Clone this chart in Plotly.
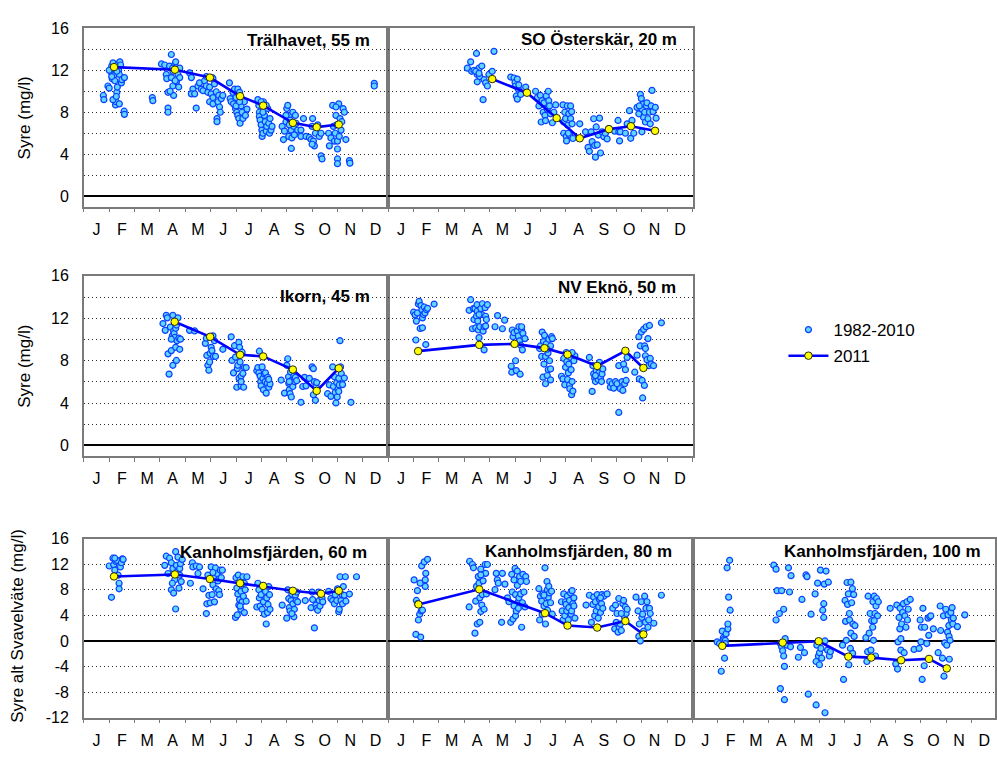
import plotly.graph_objects as go

# ---------------------------------------------------------------------------
# Data: month position (0 = 1 Jan, 12 = 31 Dec) and oxygen (mg/l);
# negative values denote hydrogen sulphide expressed as negative oxygen.
# ---------------------------------------------------------------------------
MONTHS = ["J", "F", "M", "A", "M", "J", "J", "A", "S", "O", "N", "D"]
PERIOD_LABEL = "1982-2010"
YEAR_LABEL = "2011"

STATIONS = [
    "Trälhavet, 55 m",
    "SO Österskär, 20 m",
    "Ikorn, 45 m",
    "NV Eknö, 50 m",
    "Kanholmsfjärden, 60 m",
    "Kanholmsfjärden, 80 m",
    "Kanholmsfjärden, 100 m",
]

tral_hist = [
    (0.77, 9.6), (0.79, 9.2), (0.95, 10.5), (1.0, 10.3), (1.05, 12.0), (1.08, 11.8), (1.1, 12.4),
    (1.12, 11.2), (1.15, 12.7), (1.18, 11.5), (1.2, 12.1), (1.25, 8.7), (1.27, 9.0), (1.3, 9.9),
    (1.32, 10.4), (1.35, 12.6), (1.37, 12.0), (1.4, 11.6), (1.42, 12.8), (1.45, 12.5), (1.48, 10.8),
    (1.5, 11.1), (1.6, 11.3), (1.59, 8.1), (1.6, 7.8), (1.15, 9.2), (1.22, 11.0), (1.28, 9.5),
    (1.4, 8.8), (1.1, 11.4), (1.0, 12.0), (1.3, 11.9),
    (2.7, 9.4), (2.72, 9.1),
    (3.06, 12.6), (3.19, 12.5), (3.25, 11.6), (3.27, 11.2), (3.32, 8.4), (3.32, 8.0), (3.32, 9.9),
    (3.38, 12.4), (3.45, 11.3), (3.45, 13.5), (3.51, 11.9), (3.51, 10.5), (3.54, 9.6), (3.58, 12.5),
    (3.62, 12.8), (3.65, 10.9), (3.71, 11.6), (3.74, 10.4), (3.78, 11.3), (3.78, 12.2), (3.6, 11.0),
    (3.4, 10.0), (3.5, 12.2),
    (4.17, 11.75), (4.24, 11.3), (4.3, 10.2), (4.24, 9.75), (4.37, 9.75), (4.43, 8.4), (4.5, 10.5),
    (4.56, 10.8), (4.63, 10.2), (4.7, 10.05), (4.76, 11.0), (4.83, 10.5), (4.83, 11.4), (4.89, 9.9),
    (4.96, 10.4), (4.96, 9.0), (5.02, 9.75), (5.06, 11.3), (5.09, 9.4), (5.09, 8.8), (5.15, 10.7),
    (5.22, 9.95), (5.25, 7.4), (5.25, 7.1), (5.29, 9.0), (5.32, 9.6), (5.35, 8.5), (5.38, 8.0),
    (5.42, 9.3), (5.48, 9.6), (5.09, 11.2),
    (5.74, 10.8), (5.77, 9.3), (5.81, 9.0), (5.88, 9.9), (5.9, 8.8), (5.94, 10.2), (5.98, 8.35),
    (6.0, 9.4), (6.03, 8.0), (6.07, 7.7), (6.07, 10.2), (6.11, 7.4), (6.14, 9.9), (6.16, 6.95),
    (6.2, 8.6), (6.24, 8.0), (6.27, 7.4), (6.33, 9.0), (6.37, 7.7), (6.43, 8.3), (6.0, 8.6), (6.14, 9.0),
    (6.86, 9.2), (6.9, 8.65), (6.92, 8.0), (6.92, 7.6), (6.95, 7.25), (6.99, 6.8), (7.02, 6.3),
    (7.03, 5.7), (7.06, 6.0), (7.08, 9.0), (7.12, 7.7), (7.15, 7.1), (7.19, 6.2), (7.21, 6.65),
    (7.25, 8.35), (7.29, 6.95), (7.32, 6.0), (7.34, 7.4), (7.38, 6.3), (7.42, 6.65), (7.19, 8.65),
    (7.06, 8.0), (6.99, 9.0),
    (7.82, 6.65), (7.87, 5.4), (7.91, 6.2), (7.97, 7.1), (8.0, 8.35), (8.04, 8.65), (8.08, 5.7),
    (8.1, 7.7), (8.13, 7.25), (8.17, 6.3), (8.18, 4.55), (8.2, 5.55), (8.24, 8.0), (8.28, 6.65),
    (8.3, 5.85), (8.34, 7.7), (8.37, 6.95), (8.43, 6.3), (7.97, 7.7), (8.1, 6.8),
    (8.56, 6.3), (8.56, 5.7), (8.66, 7.4), (8.76, 5.7), (8.89, 5.6), (8.96, 5.4), (9.0, 6.65),
    (9.02, 7.4), (9.05, 5.25), (9.09, 4.8), (9.13, 6.0), (9.22, 6.8), (9.28, 5.7), (9.35, 6.0),
    (9.35, 3.85), (9.39, 3.55), (9.0, 4.95),
    (9.65, 6.0), (9.68, 4.8), (9.74, 5.55), (9.81, 8.65), (9.84, 6.65), (9.88, 5.25), (9.91, 6.0),
    (9.94, 7.7), (9.97, 6.8), (10.0, 5.25), (10.0, 4.5), (10.0, 3.55), (10.0, 3.1), (10.05, 8.8),
    (10.07, 5.7), (10.1, 7.4), (10.14, 6.3), (10.17, 7.1), (10.22, 8.35), (10.27, 8.0), (10.33, 5.4),
    (10.47, 3.4), (10.49, 3.15), (9.94, 8.5),
    (11.45, 10.75), (11.45, 10.5),
]
tral_2011 = [(1.19, 12.3), (3.59, 12.05), (4.97, 11.3), (6.16, 9.53), (7.07, 8.63),
             (8.24, 6.99), (9.18, 6.58), (10.05, 6.83)]

oster_hist = [
    (3.12, 12.2), (3.25, 12.8), (3.29, 11.9), (3.38, 12.0), (3.48, 13.6), (3.51, 11.6), (3.51, 10.9),
    (3.58, 12.2), (3.61, 11.4), (3.69, 12.4), (3.74, 9.2), (3.78, 11.1), (3.84, 10.8), (3.91, 10.5),
    (3.97, 11.6), (4.1, 11.9), (4.17, 13.8), (3.45, 11.9), (3.58, 11.7),
    (4.83, 11.35), (4.96, 11.26), (5.0, 10.85), (5.02, 10.5), (5.05, 9.55), (5.09, 11.16), (5.13, 10.2),
    (5.15, 10.6), (5.09, 9.25), (5.22, 9.7), (5.42, 10.4),
    (5.81, 10.0), (5.88, 9.4), (5.94, 8.6), (6.0, 9.6), (6.03, 7.07), (6.07, 9.1), (6.11, 8.0),
    (6.14, 8.9), (6.18, 7.7), (6.2, 7.2), (6.23, 9.55), (6.27, 8.3), (6.31, 10.0), (6.33, 9.1),
    (6.36, 8.6), (6.4, 7.85), (6.47, 7.0), (6.53, 8.0), (6.6, 8.7),
    (6.89, 8.7), (6.92, 7.07), (6.92, 6.0), (6.96, 8.0), (6.99, 7.4), (7.02, 5.7), (7.03, 5.27),
    (7.06, 8.6), (7.08, 6.76), (7.12, 7.85), (7.15, 5.83), (7.19, 7.4), (7.19, 8.6), (7.23, 8.06),
    (7.25, 6.9), (7.28, 5.5), (7.1, 6.0),
    (7.55, 6.9), (7.78, 6.14), (7.88, 4.65), (7.93, 4.28), (8.0, 6.14), (8.04, 5.2), (8.1, 7.38),
    (8.14, 4.84), (8.17, 3.72), (8.2, 6.6), (8.24, 4.9), (8.28, 5.83), (8.33, 7.44), (8.37, 4.12),
    (8.43, 6.14), (8.5, 5.67), (8.56, 6.0), (8.63, 5.46), (8.7, 6.45),
    (8.93, 6.2), (9.06, 7.22), (9.09, 6.14), (9.12, 5.27), (9.15, 6.14), (9.35, 6.0), (9.42, 6.9),
    (9.51, 8.15), (9.56, 5.52), (9.61, 7.22), (9.68, 6.0),
    (9.81, 8.46), (9.88, 7.85), (9.94, 9.7), (9.98, 9.3), (10.0, 8.3), (10.0, 6.14), (10.05, 8.77),
    (10.07, 7.5), (10.11, 8.0), (10.14, 7.07), (10.18, 8.6), (10.2, 8.9), (10.24, 7.38), (10.3, 8.0),
    (10.33, 6.9), (10.37, 8.6), (10.4, 10.08), (10.44, 8.06), (10.53, 8.46), (10.56, 7.44), (9.9, 8.6),
]
oster_2011 = [(4.1, 11.16), (5.47, 9.86), (6.64, 7.44), (7.55, 5.52), (8.7, 6.39),
              (9.57, 6.67), (10.52, 6.23)]

ikorn_hist = [
    (3.12, 11.5), (3.21, 10.86), (3.25, 12.28), (3.29, 12.04), (3.32, 8.64), (3.36, 6.73), (3.41, 11.17),
    (3.45, 8.95), (3.49, 10.34), (3.51, 7.56), (3.51, 12.28), (3.54, 10.8), (3.56, 10.56), (3.59, 10.19),
    (3.62, 9.26), (3.62, 11.05), (3.65, 8.02), (3.67, 9.88), (3.71, 12.04), (3.75, 10.12), (3.78, 9.07),
    (3.81, 10.03), (3.45, 10.03), (3.65, 11.36),
    (4.17, 10.86), (4.37, 10.8),
    (4.79, 9.63), (4.83, 10.12), (4.85, 8.49), (4.89, 7.56), (4.93, 7.1), (4.96, 7.87), (4.98, 8.7),
    (5.02, 9.26), (5.05, 8.95), (5.09, 10.34), (5.11, 8.4), (5.19, 8.4), (5.48, 9.07), (5.15, 9.88),
    (5.81, 10.25), (5.84, 8.02), (5.9, 6.85), (5.94, 9.41), (5.98, 8.33), (6.03, 5.49), (6.05, 7.25),
    (6.07, 7.56), (6.11, 9.72), (6.12, 6.33), (6.14, 9.26), (6.16, 7.87), (6.2, 5.62), (6.2, 6.54),
    (6.24, 8.8), (6.27, 6.79), (6.3, 5.49), (6.33, 7.35), (6.4, 7.35), (6.2, 6.02),
    (6.82, 7.04), (6.86, 7.35), (6.9, 6.85), (6.92, 8.89), (6.95, 6.54), (6.97, 6.02), (6.99, 5.62),
    (7.03, 7.41), (7.06, 6.33), (7.08, 5.25), (7.12, 6.73), (7.15, 6.02), (7.16, 6.85), (7.19, 4.94),
    (7.23, 5.86), (7.25, 6.42), (7.29, 5.49), (7.34, 5.8), (7.29, 6.23),
    (7.78, 6.17), (7.91, 4.94), (8.0, 7.56), (8.04, 8.18), (8.07, 6.48), (8.08, 5.86), (8.1, 5.25),
    (8.13, 4.88), (8.15, 6.94), (8.18, 4.57), (8.2, 6.17), (8.24, 5.56), (8.28, 6.54), (8.31, 6.02),
    (8.34, 6.42), (8.39, 6.11), (8.1, 6.02),
    (8.56, 4.07), (8.63, 5.56), (8.7, 6.42), (8.76, 5.62), (8.89, 6.33), (9.0, 7.41), (9.05, 7.25),
    (9.05, 4.78), (9.09, 6.02), (9.13, 4.26), (9.15, 5.56), (9.18, 5.93),
    (9.61, 4.88), (9.68, 5.71), (9.74, 4.63), (9.81, 7.41), (9.84, 5.56), (9.88, 6.48), (9.91, 5.0),
    (9.94, 4.01), (9.97, 5.93), (9.99, 4.57), (10.02, 5.31), (10.05, 6.33), (10.07, 5.71), (10.1, 9.88),
    (10.12, 7.41), (10.15, 6.79), (10.2, 5.74), (10.27, 6.36), (10.53, 4.07), (10.05, 5.09),
]
ikorn_2011 = [(3.58, 11.67), (4.98, 10.25), (6.16, 8.55), (7.07, 8.4), (8.24, 7.16),
              (9.18, 5.15), (10.05, 7.28)]

ekno_hist = [
    (1.0, 12.57), (1.06, 12.32), (1.09, 9.95), (1.11, 11.73), (1.15, 12.5), (1.19, 13.34), (1.22, 13.59),
    (1.26, 11.04), (1.29, 13.19), (1.33, 12.81), (1.35, 12.04), (1.35, 11.1), (1.39, 12.35), (1.42, 13.06),
    (1.45, 12.5), (1.48, 9.52), (1.51, 12.81), (1.55, 12.94), (1.81, 13.34),
    (3.19, 12.75), (3.25, 13.75), (3.32, 11.01), (3.36, 12.91), (3.38, 11.88), (3.42, 12.91), (3.45, 11.1),
    (3.48, 12.19), (3.5, 13.28), (3.51, 12.66), (3.53, 11.73), (3.55, 10.89), (3.58, 10.17), (3.61, 11.2),
    (3.65, 12.91), (3.69, 12.35), (3.71, 13.37), (3.74, 10.79), (3.78, 11.2), (3.78, 9.02), (3.82, 13.0),
    (3.84, 12.19), (3.87, 11.88), (3.91, 13.28), (3.84, 11.26), (3.58, 12.35),
    (4.21, 11.2), (4.31, 12.25), (4.5, 11.01), (4.59, 11.82),
    (4.85, 7.47), (4.87, 6.91), (4.89, 10.89), (4.92, 10.26), (4.96, 10.64), (5.02, 7.99), (5.05, 7.06),
    (5.09, 10.79), (5.13, 10.33), (5.15, 11.2), (5.18, 9.86), (5.2, 6.72), (5.22, 9.46), (5.26, 10.89),
    (5.29, 9.02), (5.31, 10.58), (5.39, 10.08), (5.26, 11.2),
    (5.97, 9.14), (6.0, 9.39), (6.05, 8.4), (6.07, 10.7), (6.1, 6.44), (6.12, 9.8), (6.14, 7.68),
    (6.16, 10.39), (6.2, 8.4), (6.2, 5.82), (6.23, 9.58), (6.27, 6.6), (6.3, 8.71), (6.31, 7.15),
    (6.33, 10.02), (6.36, 7.99), (6.4, 6.19), (6.4, 7.22), (6.44, 10.26), (6.47, 10.08), (6.4, 9.39),
    (6.27, 9.08),
    (6.83, 6.53), (6.89, 6.28), (6.92, 8.21), (6.96, 5.72), (6.99, 7.37), (7.02, 8.77), (7.04, 7.9),
    (7.07, 6.22), (7.1, 6.84), (7.12, 7.68), (7.15, 5.72), (7.16, 5.35), (7.19, 8.3), (7.21, 7.15),
    (7.23, 4.79), (7.25, 6.03), (7.28, 5.13), (7.32, 7.99), (7.36, 8.46), (7.25, 8.77),
    (7.93, 8.3), (8.04, 5.1), (8.07, 7.53), (8.1, 6.75), (8.14, 6.34), (8.17, 6.03), (8.2, 7.06),
    (8.24, 6.59), (8.28, 6.22), (8.3, 6.84), (8.33, 7.84), (8.37, 6.44), (8.41, 6.03), (8.43, 6.75),
    (8.46, 7.22), (8.17, 6.59),
    (8.73, 6.03), (8.76, 5.5), (8.83, 5.82), (8.89, 5.41), (8.96, 6.03), (9.02, 5.82), (9.09, 7.53),
    (9.09, 3.11), (9.15, 5.35), (9.22, 6.03), (9.25, 5.19), (9.28, 7.68), (9.32, 5.82), (9.38, 6.13),
    (9.42, 8.3), (9.35, 7.15),
    (9.72, 6.91), (9.81, 8.52), (9.88, 10.26), (9.9, 6.28), (9.94, 9.39), (9.98, 10.7), (10.01, 6.13),
    (10.03, 4.48), (10.07, 10.95), (10.1, 5.66), (10.11, 9.39), (10.14, 8.46), (10.17, 11.2), (10.2, 8.09),
    (10.24, 10.08), (10.27, 7.53), (10.3, 11.32), (10.33, 8.21), (10.37, 7.68), (10.46, 7.53),
    (10.77, 11.57), (10.14, 9.14),
]
ekno_2011 = [(1.18, 8.9), (3.59, 9.49), (4.98, 9.58), (6.16, 9.18), (7.07, 8.58),
             (8.24, 7.5), (9.35, 8.93), (10.06, 7.31)]

kan60_hist = [
    (1.0, 11.71), (1.09, 6.82), (1.15, 12.93), (1.18, 11.91), (1.22, 11.05), (1.26, 12.42), (1.31, 12.58),
    (1.35, 10.29), (1.39, 9.01), (1.39, 8.15), (1.44, 11.56), (1.48, 12.22), (1.52, 12.83), (1.55, 12.73),
    (1.22, 12.93),
    (3.19, 11.81), (3.25, 13.24), (3.32, 10.54), (3.38, 12.93), (3.45, 7.99), (3.45, 12.22), (3.51, 11.3),
    (3.54, 7.48), (3.58, 9.52), (3.62, 13.95), (3.62, 4.99), (3.65, 11.81), (3.67, 10.79), (3.71, 13.09),
    (3.75, 8.25), (3.78, 11.3), (3.81, 12.07), (3.84, 9.27), (3.88, 12.73), (3.49, 9.01), (3.78, 10.29),
    (4.2, 9.01), (4.28, 12.22), (4.3, 11.56), (4.43, 11.71), (4.5, 10.54), (4.56, 11.56), (4.7, 8.15),
    (4.83, 4.28), (4.85, 5.8), (4.89, 10.29), (4.93, 7.13), (4.98, 5.96), (5.02, 11.56), (5.06, 7.23),
    (5.09, 8.76), (5.11, 10.03), (5.15, 6.11), (5.19, 11.41), (5.22, 8.15), (5.25, 10.54), (5.29, 9.37),
    (5.32, 7.84), (5.35, 7.23), (5.38, 11.05), (5.42, 9.88), (5.46, 11.05), (5.09, 10.69),
    (5.98, 3.67), (6.0, 9.88), (6.03, 8.25), (6.05, 4.07), (6.07, 7.33), (6.09, 10.29), (6.11, 5.6),
    (6.14, 6.47), (6.16, 9.52), (6.19, 4.94), (6.2, 7.74), (6.23, 8.86), (6.24, 6.11), (6.27, 10.03),
    (6.29, 6.98), (6.33, 4.43), (6.36, 7.99), (6.4, 6.21), (6.43, 10.03), (6.33, 9.01), (6.16, 5.45),
    (6.82, 5.3), (6.86, 9.01), (6.9, 7.99), (6.92, 6.72), (6.95, 5.45), (6.99, 7.23), (7.03, 4.94),
    (7.06, 8.66), (7.08, 6.11), (7.12, 4.17), (7.16, 7.74), (7.19, 2.65), (7.21, 6.72), (7.24, 4.43),
    (7.26, 5.7), (7.29, 8.5), (7.32, 7.23), (7.34, 4.94),
    (7.82, 5.6), (8.0, 3.56), (8.04, 7.99), (8.08, 6.62), (8.1, 5.19), (8.13, 4.68), (8.17, 6.31),
    (8.2, 7.33), (8.24, 5.8), (8.28, 3.77), (8.3, 4.94), (8.34, 7.13), (8.37, 6.31), (8.39, 7.64),
    (8.43, 6.11), (8.2, 4.28),
    (8.73, 6.31), (8.96, 5.19), (9.0, 7.64), (9.02, 6.47), (9.09, 2.04), (9.15, 5.6), (9.18, 5.09),
    (9.22, 4.79), (9.26, 7.64), (9.28, 6.31), (9.31, 5.45), (9.39, 6.72), (9.42, 6.11),
    (9.65, 7.74), (9.74, 6.62), (9.81, 6.31), (9.88, 5.8), (9.91, 7.23), (9.97, 6.31), (10.0, 8.15),
    (10.05, 4.58), (10.07, 4.94), (10.1, 10.03), (10.14, 6.31), (10.18, 7.23), (10.2, 5.8), (10.23, 8.5),
    (10.27, 7.13), (10.31, 10.03), (10.33, 6.21), (10.47, 7.33), (10.75, 10.03),
]
kan60_2011 = [(1.19, 10.08), (3.59, 10.39), (4.97, 9.67), (6.16, 9.01), (7.07, 8.6),
              (8.24, 7.84), (9.35, 7.38), (10.05, 7.84)]

kan80_hist = [
    (1.02, 9.54), (1.09, 1.02), (1.11, 6.33), (1.15, 7.86), (1.19, 3.27), (1.24, 4.18), (1.26, 9.03),
    (1.28, 0.61), (1.3, 4.69), (1.32, 11.73), (1.35, 4.8), (1.42, 12.35), (1.46, 9.54), (1.46, 8.52),
    (1.48, 10.56), (1.55, 12.76), (1.15, 5.82),
    (3.19, 5.31), (3.21, 12.45), (3.32, 11.94), (3.36, 11.43), (3.42, 1.22), (3.45, 6.22), (3.48, 8.52),
    (3.51, 2.65), (3.55, 10.05), (3.58, 9.03), (3.61, 6.73), (3.61, 2.91), (3.65, 4.59), (3.65, 11.22),
    (3.69, 5.61), (3.71, 7.24), (3.74, 9.39), (3.78, 4.95), (3.82, 11.94), (3.84, 10.56), (3.87, 7.35),
    (3.91, 11.94), (3.65, 10.31),
    (4.21, 8.01), (4.26, 10.56), (4.3, 9.54), (4.34, 9.03), (4.47, 2.91), (4.5, 10.56), (4.6, 8.88),
    (4.7, 6.73), (4.76, 6.12), (4.83, 2.91), (4.87, 10.41), (4.89, 7.65), (4.92, 3.42), (4.96, 9.54),
    (4.96, 5.46), (5.0, 11.33), (5.02, 7.24), (5.02, 3.93), (5.05, 4.69), (5.09, 10.92), (5.09, 8.67),
    (5.13, 6.12), (5.15, 6.73), (5.18, 10.05), (5.22, 7.35), (5.22, 9.29), (5.26, 2.14), (5.29, 5.97),
    (5.31, 10.41), (5.35, 7.65), (5.39, 5.31), (5.42, 10.05), (5.45, 9.29), (5.13, 5.1),
    (5.94, 8.16), (5.97, 3.27), (6.0, 6.99), (6.05, 6.22), (6.07, 4.18), (6.1, 7.35), (6.14, 5.46),
    (6.18, 11.43), (6.2, 2.65), (6.23, 5.82), (6.26, 9.29), (6.27, 8.01), (6.28, 4.8), (6.31, 6.84),
    (6.33, 8.52), (6.36, 7.5), (6.4, 5.97), (6.44, 7.76), (6.47, 4.18), (6.14, 7.14),
    (6.83, 6.12), (6.86, 4.69), (6.89, 3.27), (6.92, 7.35), (6.96, 3.93), (6.99, 6.12), (7.01, 5.71),
    (7.04, 4.69), (7.06, 6.99), (7.1, 3.27), (7.12, 5.2), (7.15, 6.33), (7.19, 7.5), (7.21, 4.18),
    (7.23, 4.69), (7.25, 7.86), (7.28, 5.82), (7.32, 5.46), (7.32, 6.73), (7.36, 3.57),
    (7.8, 5.61), (7.93, 7.14), (8.01, 2.91), (8.07, 5.71), (8.1, 6.84), (8.14, 3.93), (8.17, 6.12),
    (8.2, 4.69), (8.24, 7.24), (8.28, 3.57), (8.3, 5.31), (8.33, 6.48), (8.37, 4.44), (8.41, 5.82),
    (8.43, 7.24), (8.46, 5.1), (8.5, 6.99), (8.63, 7.35), (8.37, 6.73),
    (8.85, 5.1), (8.93, 1.89), (8.96, 5.61), (8.99, 2.91), (9.02, 4.29), (9.06, 1.38), (9.09, 6.63),
    (9.11, 2.14), (9.15, 2.65), (9.19, 1.63), (9.25, 5.82), (9.28, 6.33), (9.32, 3.67), (9.35, 5.31),
    (9.38, 4.29), (9.42, 4.95), (9.19, 4.29),
    (9.77, 6.84), (9.85, 4.69), (9.88, 0.71), (9.9, 2.65), (9.94, 0.0), (9.98, 6.12), (10.0, 3.67),
    (10.03, 4.18), (10.07, 1.53), (10.11, 6.99), (10.14, 2.91), (10.16, 5.1), (10.2, 6.12), (10.24, 2.14),
    (10.27, 3.27), (10.3, 5.1), (10.33, 4.29), (10.47, 2.76), (10.77, 7.14),
]
kan80_2011 = [(1.19, 5.71), (3.59, 8.06), (6.18, 4.34), (7.07, 2.4), (8.24, 2.09),
              (9.35, 3.11), (10.06, 1.02)]

kan100_hist = [
    (0.97, -0.15), (1.06, -0.41), (1.13, -4.74), (1.17, 1.53), (1.21, 0.51), (1.23, 0.2), (1.26, -2.7),
    (1.29, 0.1), (1.32, 1.12), (1.36, 11.43), (1.39, 1.89), (1.39, 2.65), (1.42, 6.84), (1.46, 12.6),
    (1.48, 4.8), (1.29, -0.41),
    (3.2, 11.84), (3.29, 11.22), (3.33, 7.86), (3.29, 3.27), (3.42, 4.29), (3.46, -0.41), (3.51, 7.86),
    (3.51, -0.92), (3.55, -1.53), (3.46, -7.45), (3.59, 4.95), (3.59, -2.35), (3.62, -3.98), (3.62, -9.18),
    (3.65, 0.36), (3.72, -0.66), (3.78, 11.43), (3.82, 7.65), (3.86, -0.92), (3.88, 10.2),
    (4.17, -2.55), (4.25, -1.02), (4.31, 6.48), (4.41, -1.84), (4.47, 10.31), (4.51, 10.05), (4.56, -8.32),
    (4.67, 4.18), (4.83, 7.35), (4.87, -10.0), (4.87, -3.21), (4.9, -0.66), (4.93, 9.03), (4.96, -2.35),
    (5.0, -1.84), (5.0, -3.72), (5.04, 11.07), (5.06, -1.17), (5.09, -2.7), (5.13, 4.8), (5.17, 5.82),
    (5.17, 3.67), (5.19, 8.88), (5.22, -11.22), (5.22, 0.0), (5.26, 10.92), (5.32, -1.43), (5.35, 9.18),
    (5.39, -2.35), (5.43, -1.68),
    (5.91, -0.66), (5.95, -6.02), (6.01, 6.33), (6.03, 3.06), (6.06, 0.1), (6.09, 9.13), (6.11, 5.71),
    (6.14, 7.35), (6.16, -3.72), (6.19, 3.27), (6.22, -1.17), (6.24, 9.18), (6.24, 1.22), (6.27, 5.97),
    (6.3, 8.16), (6.32, 2.65), (6.35, 7.24), (6.37, 0.71), (6.4, 2.4), (6.31, -1.94), (6.18, 4.29),
    (6.83, 0.51), (6.87, -3.21), (6.9, -1.68), (6.92, 6.99), (6.96, 1.22), (7.0, 4.29), (7.03, -1.43),
    (7.06, 3.16), (7.1, 2.14), (7.11, 6.12), (7.13, 0.1), (7.16, 6.99), (7.19, 4.29), (7.21, -2.35),
    (7.23, 5.46), (7.25, 6.63), (7.29, 3.93), (7.32, 6.12), (7.16, 3.16),
    (7.79, 5.1), (8.01, -3.57), (8.05, 5.61), (8.08, -4.39), (8.1, -0.15), (8.14, 3.67), (8.17, 1.89),
    (8.18, 5.1), (8.21, -1.43), (8.24, 2.65), (8.28, 4.44), (8.31, 5.82), (8.34, -1.84), (8.37, 3.93),
    (8.41, 2.14), (8.45, 6.12), (8.47, 3.27), (8.5, 4.95), (8.58, 6.48), (8.21, 0.36),
    (8.73, -1.33), (8.93, -1.17), (8.97, 3.27), (9.0, -0.15), (9.02, 2.14), (9.05, -6.02), (9.08, 5.1),
    (9.13, -3.88), (9.15, 2.14), (9.23, -0.41), (9.28, 3.57), (9.31, 0.87), (9.35, 3.78), (9.39, 3.93),
    (9.49, 1.89),
    (9.68, -1.84), (9.76, 5.46), (9.78, 1.63), (9.85, -2.7), (9.89, 3.93), (9.91, -5.51), (9.94, -0.31),
    (9.98, 4.95), (10.02, -0.66), (10.05, 1.38), (10.07, 4.08), (10.1, 2.4), (10.11, 0.71), (10.12, -2.86),
    (10.15, 0.1), (10.18, 4.44), (10.2, 3.27), (10.23, 5.2), (10.26, 2.65), (10.28, 3.57), (10.44, 2.24),
    (10.73, 4.08),
]
kan100_2011 = [(1.17, -0.77), (3.55, -0.26), (4.97, -0.05), (6.14, -2.45), (7.04, -2.6),
               (8.22, -3.01), (9.32, -2.81), (10.02, -4.29)]

# ---------------------------------------------------------------------------
# Layout geometry (pixels in a 997 x 759 page)
# ---------------------------------------------------------------------------
W, H = 997, 759
COL_PX = [(84.0, 389.0), (389.0, 694.0), (694.0, 997.0)]
ROW_PX = [(20.7, 203.3), (274.0, 458.3), (542.7, 726.0)]
MONTH_W = 305.0 / 12  # pixels per month

FONT = "Liberation Sans, Arial, sans-serif"
FRAME = "#7a7a7a"
GRID = "#2a2a2a"
HIST_FILL = "#62d4ff"
HIST_EDGE = "#0a40ff"
LINE_2011 = "#0000ff"
MARK_2011 = "#ffff00"


def fx(p):
    return p / W


def fy(p):
    return 1 - p / H


panels = [
    dict(hist=tral_hist, y11=tral_2011, row=0, col=0, title=(373, 33, "right")),
    dict(hist=oster_hist, y11=oster_2011, row=0, col=1, title=(680, 32, "right")),
    dict(hist=ikorn_hist, y11=ikorn_2011, row=1, col=0, title=(373, 295, "right")),
    dict(hist=ekno_hist, y11=ekno_2011, row=1, col=1, title=(679, 286, "right")),
    dict(hist=kan60_hist, y11=kan60_2011, row=2, col=0, title=(274, 557, "center")),
    dict(hist=kan80_hist, y11=kan80_2011, row=2, col=1, title=(580, 556, "center")),
    dict(hist=kan100_hist, y11=kan100_2011, row=2, col=2, title=(884, 556, "center")),
]

fig = go.Figure()
layout = dict(
    width=W, height=H,
    margin=dict(l=0, r=0, t=0, b=0),
    paper_bgcolor="white", plot_bgcolor="white",
    font=dict(family=FONT, size=16, color="black"),
    showlegend=True,
    legend=dict(
        x=fx(785), y=fy(311), xanchor="left", yanchor="top",
        bgcolor="rgba(0,0,0,0)", font=dict(size=17, family=FONT),
        itemwidth=40, tracegroupgap=1,
    ),
    annotations=[], hovermode=False,
)

for i, p in enumerate(panels, start=1):
    suffix = "" if i == 1 else str(i)
    xa, ya = "x" + suffix, "y" + suffix
    c0, c1 = COL_PX[p["col"]]
    r0, r1 = ROW_PX[p["row"]]
    xmax = (c1 - c0) / MONTH_W

    fig.add_trace(go.Scatter(
        x=[m for m, _ in p["hist"]], y=[v for _, v in p["hist"]],
        mode="markers", xaxis=xa, yaxis=ya, name=PERIOD_LABEL,
        legendgroup="hist", showlegend=(i == 1), cliponaxis=False,
        marker=dict(size=6, color=HIST_FILL, line=dict(color=HIST_EDGE, width=1.2)),
    ))
    fig.add_trace(go.Scatter(
        x=[m for m, _ in p["y11"]], y=[v for _, v in p["y11"]],
        mode="lines+markers", xaxis=xa, yaxis=ya, name=YEAR_LABEL,
        legendgroup="y2011", showlegend=(i == 1), cliponaxis=False,
        line=dict(color=LINE_2011, width=2.6),
        marker=dict(size=7.5, color=MARK_2011, line=dict(color="#2a2a00", width=1)),
    ))

    layout["xaxis" + suffix] = dict(
        domain=[fx(c0), fx(c1)], range=[0, xmax], anchor=ya,
        tickmode="array", tickvals=[k + 0.5 for k in range(12)], ticktext=MONTHS,
        ticks="outside", ticklen=7, tickcolor="rgba(0,0,0,0)",
        tickfont=dict(size=16, family=FONT),
        minor=dict(tickmode="array", tickvals=list(range(13)), ticks="outside",
                   ticklen=4, tickwidth=1, tickcolor=FRAME, showgrid=False),
        showline=True, mirror=True, linecolor=FRAME, linewidth=1.5,
        showgrid=False, zeroline=False, fixedrange=True,
    )

    if p["row"] < 2:
        yr = [-1, 16]
        tv = list(range(0, 17, 2))
        tt = [str(v) if v % 4 == 0 else "" for v in tv]
    else:
        yr = [-12, 16]
        tv = list(range(-12, 17, 4))
        tt = [str(v) for v in tv]
    layout["yaxis" + suffix] = dict(
        domain=[fy(r1), fy(r0)], range=yr, anchor=xa,
        tickmode="array", tickvals=tv, ticktext=tt,
        showticklabels=(p["col"] == 0),
        ticks="outside", ticklen=10, tickcolor="rgba(0,0,0,0)",
        tickfont=dict(size=16, family=FONT),
        showline=True, mirror=True, linecolor=FRAME, linewidth=1.5,
        showgrid=True, gridcolor=GRID, gridwidth=1.2, griddash="1px,3px",
        zeroline=True, zerolinecolor="black", zerolinewidth=2,
        fixedrange=True,
    )

    tx, ty, anchor = p["title"]
    layout["annotations"].append(dict(
        text="<b>" + STATIONS[i - 1] + "</b>", xref="paper", yref="paper",
        x=fx(tx), y=fy(ty), xanchor=anchor, yanchor="middle", showarrow=False,
        font=dict(size=17, family=FONT, color="black"),
    ))

# Y-axis titles
for text, cx, cy in [
    ("Syre (mg/l)", 25, 112),
    ("Syre (mg/l)", 25, 366),
    ("Syre alt Svavelväte (mg/l)", 18, 632),
]:
    layout["annotations"].append(dict(
        text=text, xref="paper", yref="paper", x=fx(cx), y=fy(cy),
        xanchor="center", yanchor="middle", textangle=-90, showarrow=False,
        font=dict(size=17, family=FONT, color="black"),
    ))

fig.update_layout(**layout)
fig.write_html("out.html")
